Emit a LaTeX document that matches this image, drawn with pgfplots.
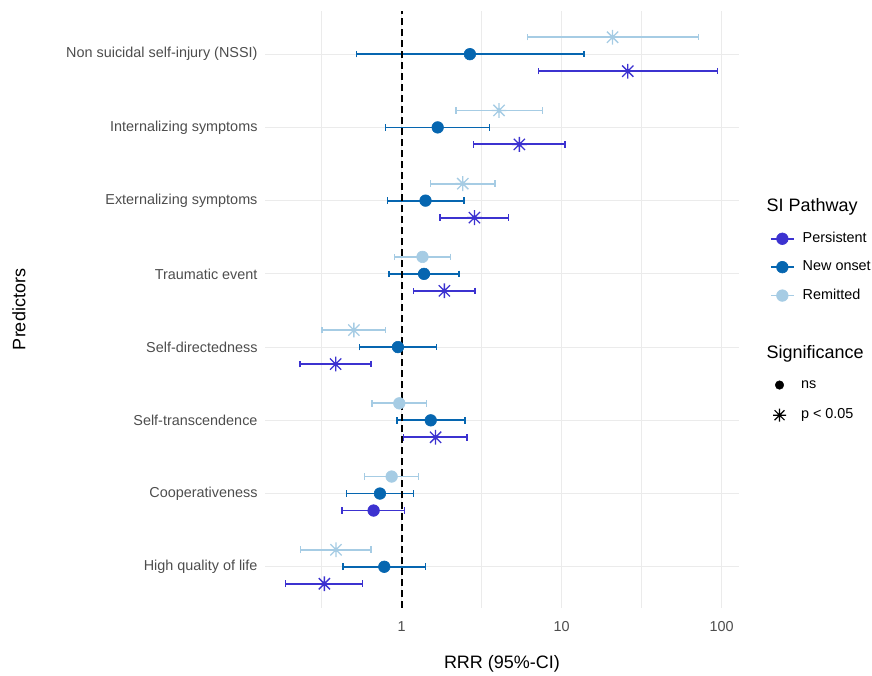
\documentclass[border=0pt]{standalone}
\usepackage{pgfplots}
\usepackage{pgfplotstable}
\pgfplotsset{compat=1.18}
\usepackage{fontspec}
\setmainfont{Liberation Sans}
\definecolor{pers}{RGB}{60,50,208}
\definecolor{newo}{RGB}{6,102,176}
\definecolor{remi}{RGB}{166,204,228}
\definecolor{gridc}{RGB}{235,235,235}
\definecolor{labgray}{RGB}{77,77,77}
\pgfdeclareplotmark{ast8}{%
  \pgfpathmoveto{\pgfqpoint{-\pgfplotmarksize}{0pt}}\pgfpathlineto{\pgfqpoint{\pgfplotmarksize}{0pt}}%
  \pgfpathmoveto{\pgfqpoint{0pt}{-\pgfplotmarksize}}\pgfpathlineto{\pgfqpoint{0pt}{\pgfplotmarksize}}%
  \pgfpathmoveto{\pgfqpoint{-0.76\pgfplotmarksize}{-0.76\pgfplotmarksize}}\pgfpathlineto{\pgfqpoint{0.76\pgfplotmarksize}{0.76\pgfplotmarksize}}%
  \pgfpathmoveto{\pgfqpoint{-0.76\pgfplotmarksize}{0.76\pgfplotmarksize}}\pgfpathlineto{\pgfqpoint{0.76\pgfplotmarksize}{-0.76\pgfplotmarksize}}%
  \pgfusepathqstroke}
\pgfplotstableread{
y x lo hi
0.768 0.329 0.188 0.568
1.768 0.668 0.424 1.04
2.768 1.63 1.03 2.57
3.768 0.387 0.232 0.643
4.768 1.85 1.19 2.87
5.768 2.85 1.74 4.66
6.768 5.44 2.81 10.5
7.768 25.9 7.15 94.4
}\persdata
\pgfplotstableread{
y x lo hi
1 0.779 0.430 1.41
2 0.732 0.451 1.19
3 1.52 0.935 2.49
4 0.948 0.546 1.65
5 1.38 0.833 2.28
6 1.41 0.818 2.45
7 1.68 0.791 3.55
8 2.67 0.523 13.8
}\newodata
\pgfplotstableread{
y x lo hi
1.232 0.389 0.234 0.643
2.232 0.866 0.587 1.27
3.232 0.967 0.653 1.43
4.232 0.503 0.319 0.794
5.232 1.35 0.904 2.02
6.232 2.41 1.52 3.83
7.232 4.06 2.19 7.57
8.232 20.8 6.10 71.8
}\remidata
\begin{document}
\begin{tikzpicture}[x=1bp,y=1bp]
\useasboundingbox (0,0) rectangle (872,676);
\pgfplotsset{
  cibar/.style={color=#1, only marks, mark=none, forget plot,
    error bars/.cd, x dir=both, x explicit, error mark=|,
    error bar style={line width=1.8bp, color=#1},
    error mark options={mark size=3.3bp, line width=1.5bp, color=#1}},
  dotm/.style={only marks, mark=*, mark size=5.8bp, forget plot, mark options={line width=0.6bp}},
  astm/.style={only marks, mark=ast8, mark size=7.4bp, forget plot, mark options={line width=1.3bp}},
}
\begin{axis}[
  at={(265bp,68bp)}, anchor=south west,
  scale only axis, width=474bp, height=597bp,
  xmode=log, xmin=0.14, xmax=128.3,
  ymin=0.437, ymax=8.59,
  xtick={1,10,100}, xticklabels={1,10,100},
  minor xtick={0.31623,3.1623,31.623},
  ytick={1,2,3,4,5,6,7,8},
  yticklabels={High quality of life, Cooperativeness, Self-transcendence, Self-directedness, Traumatic event, Externalizing symptoms, Internalizing symptoms, Non suicidal self-injury (NSSI)},
  xmajorgrids, xminorgrids, ymajorgrids,
  major grid style={color=gridc, line width=1.1bp},
  minor grid style={color=gridc, line width=0.6bp},
  axis line style={draw=none},
  major tick length=0pt, minor tick length=0pt,
  /pgf/number format/assume math mode=true,
  tick label style={font=\fontsize{14.4bp}{17bp}\selectfont, text=labgray},
  xticklabel style={yshift=-10bp},
  yticklabel style={xshift=-4bp},
  xlabel={RRR (95\%-CI)},
  ylabel={Predictors},
  label style={font=\fontsize{18bp}{21bp}\selectfont, text=black},
  xlabel style={at={(axis description cs:0.5,-0.0935)}, anchor=center},
  ylabel style={at={(axis description cs:-0.519,0.5)}, anchor=center, rotate=0},
  legend image code/.code={\draw[mark repeat=2,mark phase=2,#1] plot coordinates {(0bp,0bp) (11.5bp,0bp) (23bp,0bp)};},
  legend style={at={(axis description cs:1.0654,0.6295)}, anchor=north west, draw=none, fill=none, inner sep=0pt, outer sep=0pt,
    row sep=15.2bp, column sep=8bp,
    nodes={inner sep=0pt, text height=10.3bp, text depth=2.9bp, font=\fontsize{14.4bp}{17bp}\selectfont},
  },
  legend cell align=left,
  clip=false,
]
% confidence intervals
\addplot[cibar=pers] table[x=x, y=y, x error plus expr=\thisrow{hi}-\thisrow{x}, x error minus expr=\thisrow{x}-\thisrow{lo}] {\persdata};
\addplot[cibar=newo] table[x=x, y=y, x error plus expr=\thisrow{hi}-\thisrow{x}, x error minus expr=\thisrow{x}-\thisrow{lo}] {\newodata};
\addplot[cibar=remi] table[x=x, y=y, x error plus expr=\thisrow{hi}-\thisrow{x}, x error minus expr=\thisrow{x}-\thisrow{lo}] {\remidata};
% points: ns
\addplot[dotm, color=pers] coordinates {(0.668,1.768)};
\addplot[dotm, color=newo] coordinates {(0.779,1) (0.732,2) (1.52,3) (0.948,4) (1.38,5) (1.41,6) (1.68,7) (2.67,8)};
\addplot[dotm, color=remi] coordinates {(0.866,2.232) (0.967,3.232) (1.35,5.232)};
% points: p < 0.05
\addplot[astm, color=pers] coordinates {(0.329,0.768) (1.63,2.768) (0.387,3.768) (1.85,4.768) (2.85,5.768) (5.44,6.768) (25.9,7.768)};
\addplot[astm, color=remi] coordinates {(0.389,1.232) (0.503,4.232) (2.41,6.232) (4.06,7.232) (20.8,8.232)};
% reference line
\addplot[black, line width=1.8bp, dash pattern=on 7bp off 4bp, forget plot] coordinates {(1,0.437) (1,8.59)};
% legend
\addlegendimage{pers, line width=1.7bp, mark=*, mark size=5.8bp, mark options={line width=0.6bp}}
\addlegendentry{Persistent}
\addlegendimage{newo, line width=1.7bp, mark=*, mark size=5.8bp, mark options={line width=0.6bp}}
\addlegendentry{New onset}
\addlegendimage{remi, line width=1.7bp, mark=*, mark size=5.8bp, mark options={line width=0.6bp}}
\addlegendentry{Remitted}
\end{axis}
\begin{axis}[
  at={(265bp,68bp)}, anchor=south west,
  scale only axis, width=474bp, height=597bp,
  hide axis, xmin=0, xmax=1, ymin=0, ymax=1,
  legend image code/.code={\path[draw=none, fill=none] (0bp,0bp) -- (23bp,0bp); \draw[#1] plot coordinates {(9.5bp,0bp)};},
  legend style={at={(axis description cs:1.0654,0.3845)}, anchor=north west, draw=none, fill=none, inner sep=0pt, outer sep=0pt,
    row sep=17bp, column sep=8bp,
    nodes={inner sep=0pt, text height=10.3bp, text depth=2.9bp, font=\fontsize{14.4bp}{17bp}\selectfont},
  },
  legend cell align=left,
]
\addlegendimage{black, only marks, mark=*, mark size=4.3bp}
\addlegendentry{ns}
\addlegendimage{black, only marks, mark=ast8, mark size=6.5bp, mark options={line width=1.1bp}}
\addlegendentry{p < 0.05}
\end{axis}
\node[anchor=base west, inner sep=0pt, font=\fontsize{18bp}{21bp}\selectfont] at (766.5,464) {SI Pathway};
\node[anchor=base west, inner sep=0pt, font=\fontsize{18bp}{21bp}\selectfont] at (766.5,317) {Significance};
\end{tikzpicture}
\end{document}
